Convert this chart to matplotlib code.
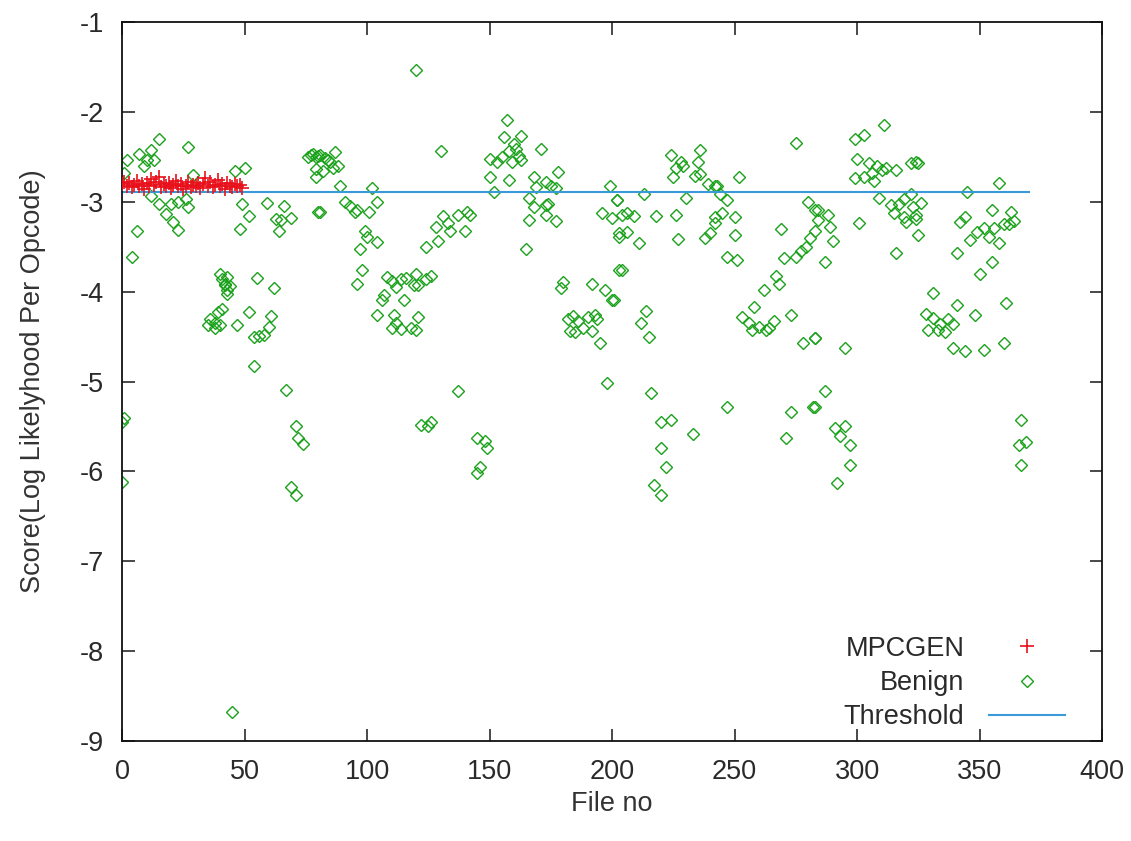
import matplotlib
matplotlib.use("Agg")
import matplotlib.pyplot as plt
from matplotlib.lines import Line2D

# MPCGEN generated files: file number and score
mpcgen_x = list(range(50))
mpcgen_y = [-2.80, -2.78, -2.82, -2.79, -2.84, -2.81, -2.77, -2.83, -2.80, -2.86,
            -2.79, -2.82, -2.75, -2.81, -2.78, -2.72, -2.84, -2.80, -2.83, -2.79,
            -2.85, -2.81, -2.77, -2.83, -2.80, -2.86, -2.82, -2.78, -2.84, -2.81,
            -2.83, -2.79, -2.85, -2.80, -2.74, -2.82, -2.78, -2.84, -2.81, -2.76,
            -2.83, -2.80, -2.86, -2.79, -2.82, -2.84, -2.80, -2.83, -2.81, -2.85]

# Benign files: file number and score
benign_x = [
    15, 27, 2, 7, 12, 10, 13, 9, 29, 1, 12, 15, 18, 21, 23, 23, 27, 26, 20, 6,
    4, 43, 42, 43, 39, 36, 35, 38, 40, 0, 1, 0,
    46, 50, 76, 77, 78, 79, 80, 79, 79, 49, 52, 48, 59, 66, 63, 65, 69, 64, 80,
    40, 41, 42, 43, 44, 41, 38, 47, 55, 62, 52, 61, 60, 54, 56, 58, 54, 67, 71,
    72, 74, 69, 71, 45,
    120, 81, 83, 85, 87, 88, 82, 84, 86, 89, 102, 81, 91, 93, 95, 96, 101, 104,
    99, 100, 104, 97, 98, 96, 108, 110, 112, 114, 116, 119, 107, 106, 115, 104,
    111, 112, 110, 114, 118, 122,
    130, 157, 156, 160, 158, 155, 153, 159, 150, 150, 158, 152, 131, 133, 137,
    141, 142, 140, 128, 134, 124, 129, 120, 124, 126, 121, 121, 120, 137, 125,
    126, 145, 148, 149, 146, 145,
    163, 161, 163, 162, 171, 178, 168, 173, 175, 169, 177, 166, 168, 173, 174,
    166, 173, 177, 165, 199, 202, 196, 200, 203, 203, 180, 179, 192, 197, 200,
    182, 184, 186, 188, 190, 193, 194, 183, 185, 192, 195, 198,
    224, 236, 228, 226, 229, 235, 234, 236, 225, 239, 242, 202, 213, 230, 204,
    206, 209, 218, 226, 203, 206, 211, 227, 238, 240, 242, 204, 201, 214, 212,
    215, 216, 220, 224, 233, 220, 222, 217, 220,
    275, 252, 243, 244, 247, 245, 250, 242, 250, 247, 251, 280, 283, 284, 269,
    270, 275, 277, 279, 281, 267, 268, 262, 258, 253, 256, 260, 263, 266, 264,
    257, 273, 278, 283, 247, 273, 282, 271,
    311, 299, 303, 300, 305, 308, 310, 312, 316, 306, 303, 299, 307, 322, 324,
    309, 322, 284, 288, 289, 283, 290, 287, 301, 314, 317, 319, 323, 315, 319,
    320, 324, 316, 283, 295, 287, 283, 291, 295, 293, 297, 297, 292,
    325, 358, 345, 326, 324, 325, 355, 363, 342, 344, 349, 352, 354, 356, 360,
    362, 364, 346, 358, 341, 355, 350, 331, 341, 348, 361, 328, 331, 334, 337,
    333, 336, 339, 329, 339, 344, 352, 360, 367, 366, 369, 367]
benign_y = [
    -2.30, -2.39, -2.54, -2.47, -2.42, -2.53, -2.54, -2.60, -2.70, -2.68, -2.94,
    -3.02, -3.14, -3.22, -3.31, -3.00, -3.06, -2.97, -3.02, -3.33,
    -3.61, -3.84, -3.93, -4.03, -4.23, -4.30, -4.37, -4.41, -4.37, -5.45, -5.41,
    -6.12,
    -2.66, -2.62, -2.50, -2.48, -2.47, -2.50, -2.49, -2.63, -2.72, -3.03, -3.16,
    -3.30, -3.01, -3.05, -3.19, -3.20, -3.18, -3.33, -3.11,
    -3.80, -3.86, -3.91, -3.98, -3.94, -4.19, -4.35, -4.37, -3.85, -3.96, -4.23,
    -4.27, -4.39, -4.50, -4.49, -4.48, -4.83, -5.09, -5.50, -5.63, -5.70, -6.17,
    -6.26, -8.68,
    -1.53, -2.48, -2.51, -2.56, -2.45, -2.60, -2.66, -2.54, -2.62, -2.82, -2.85,
    -3.11, -3.00, -3.05, -3.11, -3.09, -3.11, -3.00, -3.33, -3.39, -3.45, -3.53,
    -3.76, -3.91, -3.84, -3.88, -3.95, -3.86, -3.85, -3.93, -4.04, -4.09, -4.09,
    -4.26, -4.26, -4.35, -4.40, -4.42, -4.41, -5.48,
    -2.44, -2.09, -2.28, -2.36, -2.43, -2.50, -2.56, -2.56, -2.52, -2.72, -2.76,
    -2.89, -3.16, -3.24, -3.15, -3.11, -3.15, -3.33, -3.28, -3.33, -3.50, -3.44,
    -3.80, -3.86, -3.83, -3.93, -4.28, -4.43, -5.11, -5.50, -5.45, -5.63, -5.66,
    -5.74, -5.95, -6.02,
    -2.27, -2.41, -2.53, -2.49, -2.41, -2.67, -2.72, -2.78, -2.83, -2.84, -2.85,
    -2.96, -3.06, -3.04, -3.02, -3.20, -3.15, -3.21, -3.53, -2.83, -2.98, -3.13,
    -3.18, -3.39, -3.76, -3.89, -3.96, -3.91, -3.98, -4.09,
    -4.30, -4.27, -4.33, -4.40, -4.28, -4.26, -4.30, -4.44, -4.45, -4.44, -4.57,
    -5.02,
    -2.48, -2.42, -2.56, -2.62, -2.60, -2.56, -2.71, -2.69, -2.72, -2.80, -2.83,
    -2.98, -2.91, -2.96, -3.15, -3.13, -3.16, -3.16, -3.15, -3.35, -3.34, -3.46,
    -3.41, -3.40, -3.35, -3.17, -3.76, -4.09, -4.22, -4.35, -4.50, -5.13, -5.45,
    -5.43, -5.58, -5.74, -5.95, -6.15, -6.26,
    -2.35, -2.72, -2.83, -2.91, -2.98, -3.13, -3.17, -3.24, -3.37, -3.61, -3.65,
    -3.00, -3.09, -3.20, -3.30, -3.63, -3.62, -3.55, -3.50, -3.40, -3.83, -3.91,
    -3.98, -4.17, -4.28, -4.35, -4.39, -4.43, -4.33, -4.41, -4.43, -4.26, -4.57,
    -4.52, -5.28, -5.34, -5.28, -5.63,
    -2.15, -2.30, -2.26, -2.52, -2.57, -2.60, -2.65, -2.62, -2.65, -2.68, -2.72,
    -2.74, -2.77, -2.57, -2.56, -2.96, -2.91, -3.09, -3.15, -3.28, -3.33, -3.44,
    -3.67, -3.24, -3.04, -3.02, -2.97, -3.06, -3.13, -3.17, -3.22, -3.19, -3.57,
    -4.52, -4.63, -5.11, -5.28, -5.52, -5.50, -5.61, -5.71, -5.93, -6.13,
    -2.57, -2.79, -2.89, -3.01, -3.15, -3.37, -3.09, -3.11, -3.22, -3.17, -3.34,
    -3.29, -3.39, -3.29, -3.25, -3.25, -3.21, -3.43, -3.46, -3.57, -3.67, -3.80,
    -4.02, -4.15, -4.26, -4.13, -4.25, -4.29, -4.36, -4.30, -4.43, -4.45, -4.36,
    -4.43, -4.63, -4.66, -4.65, -4.57, -5.43, -5.71, -5.67, -5.93]

threshold_x = [0, 370]
threshold_y = [-2.89, -2.89]

x_ticks = [0, 50, 100, 150, 200, 250, 300, 350, 400]
y_ticks = [-9, -8, -7, -6, -5, -4, -3, -2, -1]

plt.rcParams["font.family"] = ["Liberation Sans", "DejaVu Sans"]

fig = plt.figure(figsize=(11.31, 8.41), dpi=100)
ax = fig.add_axes([0.1079, 0.1189, 0.8665, 0.8549])

red = "#e8101a"
green = "#1aa31a"
blue = "#3a9ad9"
fs = 19.5

ax.plot(mpcgen_x, mpcgen_y, linestyle="none", marker="+", markersize=10,
        markeredgewidth=1.2, color=red, zorder=3)
ax.plot(benign_x, benign_y, linestyle="none", marker="D", markersize=6.5,
        markerfacecolor="none", markeredgecolor=green, markeredgewidth=1.0,
        zorder=2)
ax.plot(threshold_x, threshold_y, color=blue, linewidth=1.5, zorder=2)

ax.set_xlim(0, 400)
ax.set_ylim(-9, -1)
ax.set_xticks(x_ticks)
ax.set_yticks(y_ticks)
ax.set_xticklabels([str(v) for v in x_ticks])
ax.set_yticklabels([str(v) for v in y_ticks])
ax.tick_params(direction="in", length=9, width=1.2, top=True, right=True,
               labelsize=fs, colors="#2a2a2a")
ax.tick_params(axis="x", pad=13)
ax.tick_params(axis="y", pad=13)
for s in ax.spines.values():
    s.set_linewidth(1.3)
    s.set_color("#111111")

ax.set_xlabel("File no", fontsize=fs, color="#333333", labelpad=4)
ax.set_ylabel("Score(Log Likelyhood Per Opcode)", fontsize=fs,
              color="#333333", labelpad=24)

handles = [
    Line2D([], [], linestyle="none", marker="+", markersize=10,
           markeredgewidth=1.2, color=red),
    Line2D([], [], linestyle="none", marker="D", markersize=6.5,
           markerfacecolor="none", markeredgecolor=green, markeredgewidth=1.0),
    Line2D([], [], color=blue, linewidth=1.5),
]
leg = ax.legend(handles, ["MPCGEN", "Benign", "Threshold"], loc="lower right",
                bbox_to_anchor=(0.973, 0.0), borderaxespad=0.0,
                frameon=False, fontsize=fs, markerfirst=False,
                handlelength=2.8, handletextpad=0.9, labelspacing=0.3)
for t in leg.get_texts():
    t.set_ha("right")
    t.set_color("#2a2a2a")

fig.savefig("out.png", dpi=100)
